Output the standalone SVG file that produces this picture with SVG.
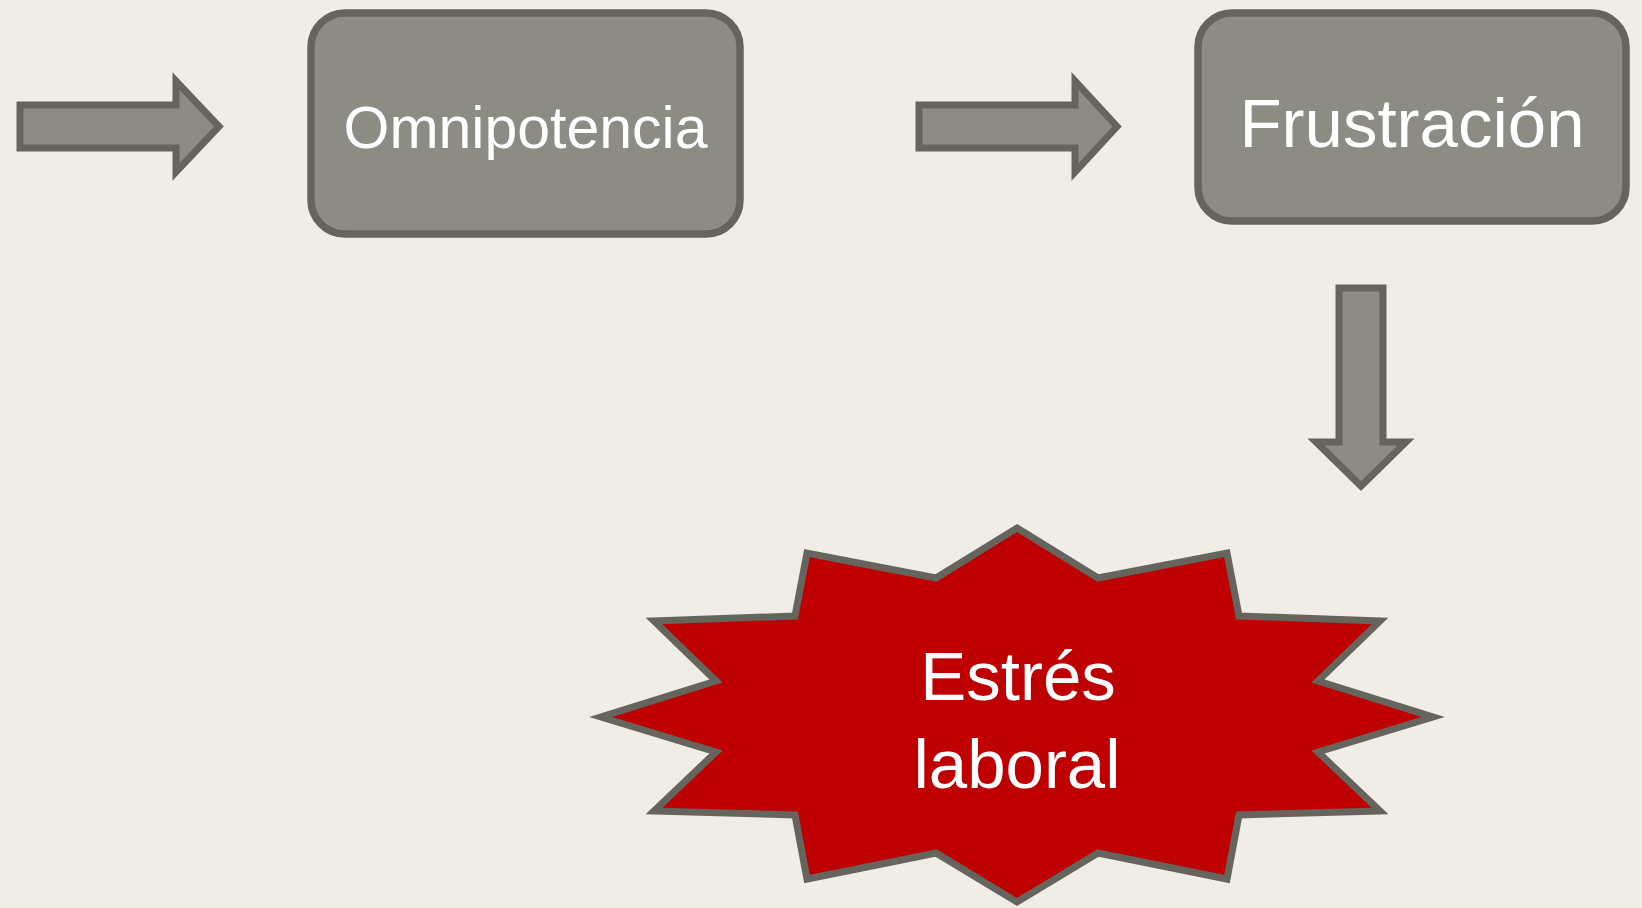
<svg xmlns="http://www.w3.org/2000/svg" width="1642" height="908" viewBox="0 0 1642 908">
<style>
.bg{fill:#EFEDE5}
.box{fill:#8C8C85;stroke:#65655E;stroke-width:7.5}
.arr{fill:#8C8C85;stroke:#65655E;stroke-width:7;stroke-linejoin:miter}
.burst{fill:#BE0000;stroke:#65655E;stroke-width:7;stroke-linejoin:miter}
.t{fill:#FFFFFF;font-family:"Liberation Sans",Arial,sans-serif;text-anchor:middle}
</style>
<rect class="bg" x="0" y="0" width="1642" height="908"/>
<g id="connectors">
<path id="arrow1" class="arr" d="M20,105 L176,105 L176,81 L219,126.5 L176,172 L176,148 L20,148 Z"/>
<path id="arrow2" class="arr" d="M919,105 L1075,105 L1075,81 L1117,126.5 L1075,172 L1075,148 L919,148 Z"/>
<path id="arrow3" class="arr" d="M1339,288 L1383,288 L1383,442 L1406,442 L1361,486 L1316,442 L1339,442 Z"/>
</g>
<g id="node-omnipotencia">
<rect class="box" x="311" y="13" width="429" height="221" rx="34" ry="34"/>
<text class="t" x="525.5" y="148" font-size="59">Omnipotencia</text>
</g>
<g id="node-frustracion">
<rect class="box" x="1198" y="13" width="428" height="208" rx="34" ry="34"/>
<text class="t" x="1412" y="147" font-size="69">Frustración</text>
</g>
<g id="node-estres">
<polygon class="burst" points="1017,528 1098,578 1227,553 1239,616 1380,621 1318,681 1433,717 1318,752 1380,811 1239,815 1227,879 1098,853 1017,902 936,853 807,879 795,815 654,811 716,752 601,717 716,681 654,621 795,616 807,553 936,578"/>
<text class="t" x="1018" y="700" font-size="69">Estrés</text>
<text class="t" x="1017" y="788" font-size="69">laboral</text>
</g>
</svg>
